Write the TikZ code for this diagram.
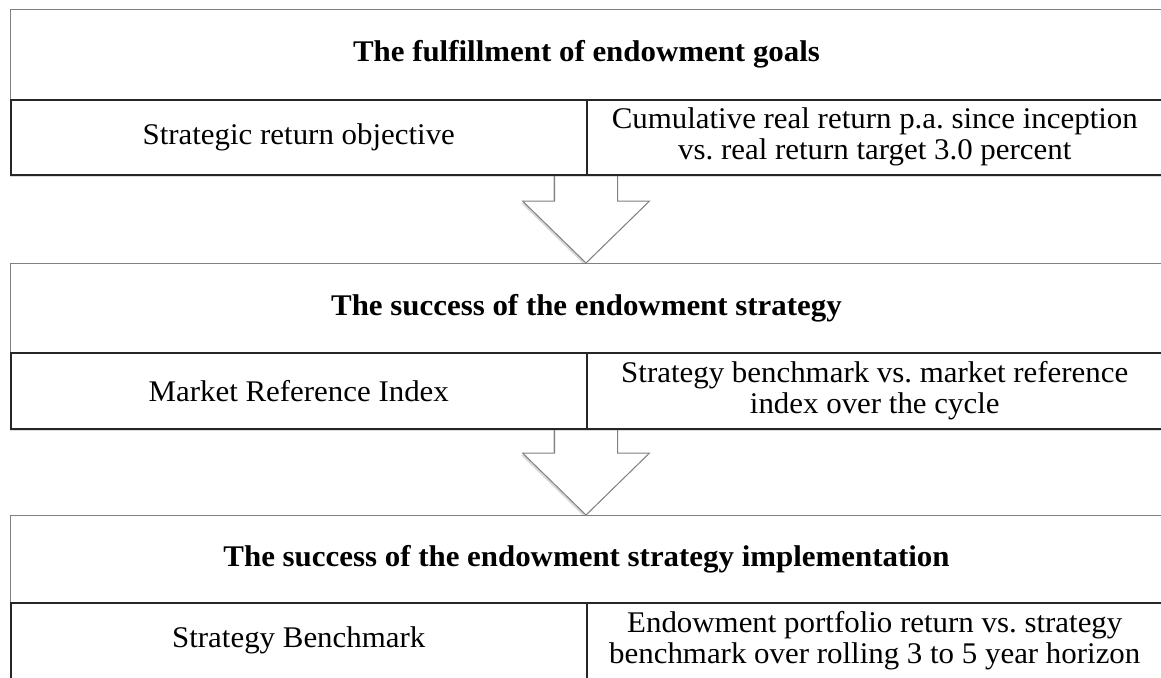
\documentclass[tikz,border=0pt]{standalone}
\usepackage{fontspec}
\setmainfont{Liberation Serif}[FakeStretch=1.03]
\usetikzlibrary{calc,shadows}
\frenchspacing
\begin{document}
\begin{tikzpicture}[x=1pt,y=-1pt,
  hdr/.style={draw=black!50, line width=1pt, fill=white, minimum width=1152pt, anchor=north west, inner sep=0pt, font=\fontsize{30}{31}\selectfont\bfseries\frenchspacing, drop shadow={shadow xshift=-1pt, shadow yshift=-2.5pt, opacity=0.28}},
  cell/.style={draw=black!85, line width=1.5pt, fill=white, minimum width=576pt, anchor=north west, inner sep=0pt, align=center, font=\fontsize{30}{31}\selectfont\frenchspacing, drop shadow={shadow xshift=-1pt, shadow yshift=-2.5pt, opacity=0.28}},
  blockarrow/.style={draw=black!50, line width=1pt, fill=white, line join=miter, drop shadow={shadow xshift=-1.5pt, shadow yshift=-2pt, opacity=0.3}}]
\useasboundingbox (0,0) rectangle (1161,677);
\fill[white] (0,0) rectangle (1161,677);

% named anchors for arrows
\coordinate (a1s) at (586,174);
\coordinate (a1e) at (586,263);
\coordinate (a2s) at (586,428);
\coordinate (a2e) at (586,515);

% block arrows (drawn first, boxes on top)
\draw[blockarrow] ($(a1s)+(-31.5,0)$) -- ($(a1e)+(-31.5,-62)$) -- ($(a1e)+(-63.5,-62)$) -- (a1e) -- ($(a1e)+(63.5,-62)$) -- ($(a1e)+(31.5,-62)$) -- ($(a1s)+(31.5,0)$);
\draw[blockarrow] ($(a2s)+(-31.5,0)$) -- ($(a2e)+(-31.5,-62)$) -- ($(a2e)+(-63.5,-62)$) -- (a2e) -- ($(a2e)+(63.5,-62)$) -- ($(a2e)+(31.5,-62)$) -- ($(a2s)+(31.5,0)$);

% box 1
\node[hdr, minimum height=90pt] (h1) at (10,9) {The fulfillment of endowment goals};
\node[cell, minimum height=75pt] (l1) at (10,99) {Strategic return objective};
\node[cell, minimum height=75pt] (r1) at (586,99) {Cumulative real return p.a. since inception\\vs. real return target 3.0 percent};

% box 2
\node[hdr, minimum height=89pt] (h2) at (10,263) {The success of the endowment strategy};
\node[cell, minimum height=76pt] (l2) at (10,352) {Market Reference Index};
\node[cell, minimum height=76pt] (r2) at (586,352) {Strategy benchmark vs. market reference\\index over the cycle};

% box 3
\node[hdr, minimum height=87pt] (h3) at (10,515) {The success of the endowment strategy implementation};
\node[cell, minimum height=76pt] (l3) at (10,602) {Strategy Benchmark};
\node[cell, minimum height=76pt] (r3) at (586,602) {Endowment portfolio return vs. strategy\\benchmark over rolling 3 to 5 year horizon};
\end{tikzpicture}
\end{document}
